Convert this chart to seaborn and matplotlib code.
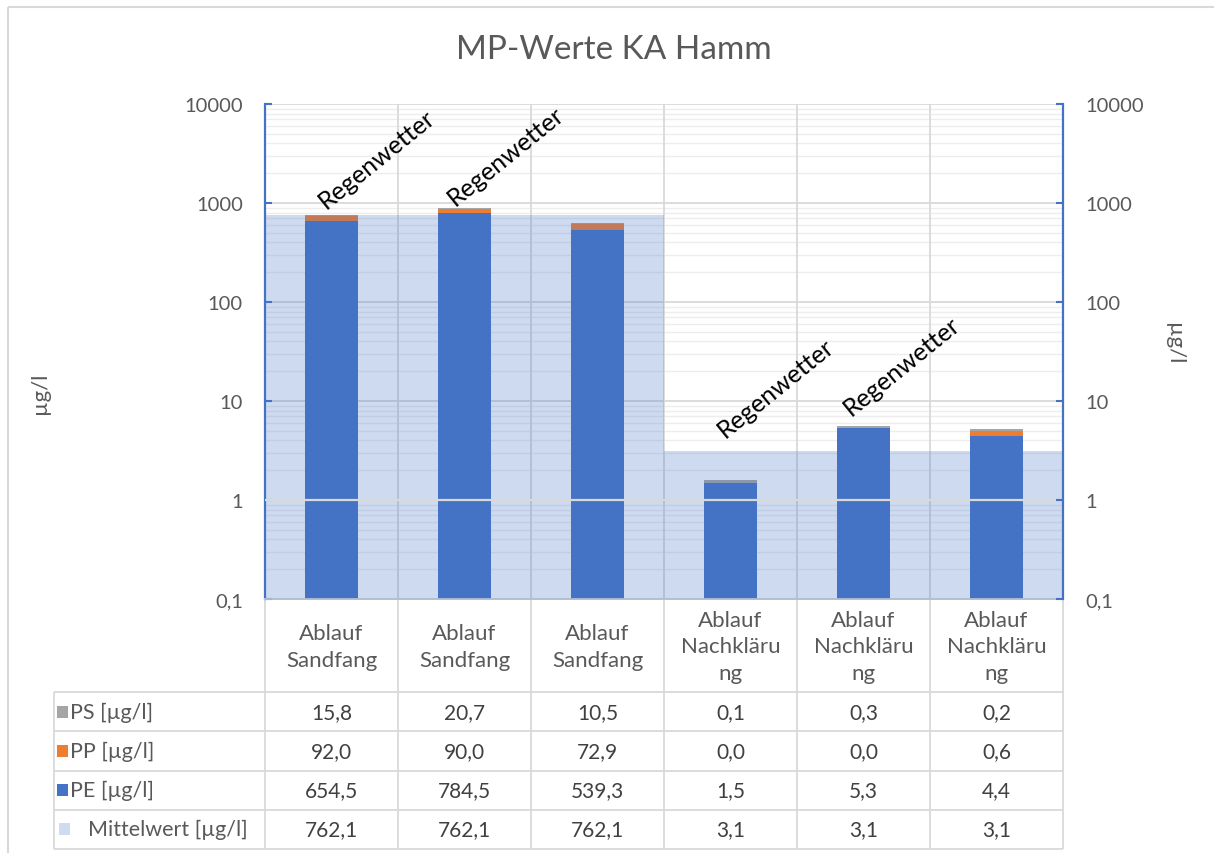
import warnings

import numpy as np
import pandas as pd
import matplotlib
matplotlib.use("Agg")
import matplotlib.pyplot as plt
from matplotlib.patches import Rectangle
from matplotlib.ticker import LogLocator, NullFormatter
import seaborn as sns

# ---- data -------------------------------------------------------------
categories = ["Ablauf\nSandfang", "Ablauf\nSandfang", "Ablauf\nSandfang",
              "Ablauf\nNachkläru\nng", "Ablauf\nNachkläru\nng", "Ablauf\nNachkläru\nng"]
ps_values = [15.8, 20.7, 10.5, 0.1, 0.3, 0.2]
pp_values = [92.0, 90.0, 72.9, 0.0, 0.0, 0.6]
pe_values = [654.5, 784.5, 539.3, 1.5, 5.3, 4.4]
mean_values = [762.1, 762.1, 762.1, 3.1, 3.1, 3.1]
rain_flags = [True, True, False, True, True, False]
rain_label = "Regenwetter"
series_labels = ["PS [µg/l]", "PP [µg/l]", "PE [µg/l]", "Mittelwert [µg/l]"]
y_ticks = [0.1, 1, 10, 100, 1000, 10000]
y_tick_labels = ["0,1", "1", "10", "100", "1000", "10000"]
title_text = "MP-Werte KA Hamm"
unit_text = "µg/l"

# ---- style ------------------------------------------------------------
PE_C, PP_C, PS_C = "#4472C4", "#ED7D31", "#A5A5A5"
MEAN_ALPHA = 0.26
MEAN_KEY = "#CFDBEE"
GRID_C, MINOR_C = "#D9D9D9", "#EDEDED"
TEXT_C = "#595959"
VALUE_C = "#404040"
FS = 14.5

sns.set_style("white")
plt.rcParams["font.family"] = ["Lato", "DejaVu Sans"]

W, H = 1214, 854
fig = plt.figure(figsize=(W / 100, H / 100), dpi=100)


def fx(x):
    return x / W


def fy(y):
    return 1 - y / H


PLOT_L, PLOT_R, PLOT_T, PLOT_B = 265, 1063, 105, 600
n = len(categories)

# overlay in pixel coordinates for the frame and the data table
tax = fig.add_axes([0, 0, 1, 1])
tax.set_xlim(0, W)
tax.set_ylim(H, 0)
tax.set_axis_off()
tax.add_patch(Rectangle((8, 8), W + 20, H + 20, fill=False, ec=GRID_C, lw=1.5))

# ---- main chart -------------------------------------------------------
ax = fig.add_axes([fx(PLOT_L), fy(PLOT_B), (PLOT_R - PLOT_L) / W, (PLOT_B - PLOT_T) / H])
ax.set_yscale("log")

df = pd.DataFrame({"pos": np.arange(n), "PE": pe_values, "PP": pp_values, "PS": ps_values})
df["PE_PP"] = df["PE"] + df["PP"]
df["total"] = df["PE_PP"] + df["PS"]

bar_kw = dict(width=0.405, saturation=1, errorbar=None, linewidth=0, zorder=2, ax=ax)
with warnings.catch_warnings():
    warnings.simplefilter("ignore")
    sns.barplot(data=df, x="pos", y="PE", color=PE_C, **bar_kw)
    sns.barplot(data=df, x="pos", y="PP", color=PP_C, bottom=df["PE"].to_numpy(), **bar_kw)
    sns.barplot(data=df, x="pos", y="PS", color=PS_C, bottom=df["PE_PP"].to_numpy(), **bar_kw)

# mean level as a translucent stepped area
x_edges = np.arange(n + 1) - 0.5
y_steps = list(mean_values) + [mean_values[-1]]
ax.fill_between(x_edges, y_steps, 0.01, step="post", color=PE_C, alpha=MEAN_ALPHA,
                linewidth=0, zorder=3)

# category axis crossing at 1
ax.axhline(1, color=GRID_C, lw=1.6, zorder=4)

for b in np.arange(n - 1) + 0.5:
    ax.axvline(b, color=GRID_C, lw=1.3, zorder=0.8)

ax.set_xlim(-0.5, n - 0.5)
ax.set_ylim(y_ticks[0], y_ticks[-1])
ax.set_xticks([])
ax.set_xlabel("")
ax.set_ylabel("")
ax.set_yticks(y_ticks, y_tick_labels)
ax.yaxis.set_minor_locator(LogLocator(base=10, subs=np.arange(2, 10)))
ax.yaxis.set_minor_formatter(NullFormatter())
ax.set_axisbelow(True)
ax.grid(True, which="major", axis="y", color=GRID_C, lw=1.3)
ax.grid(True, which="minor", axis="y", color=MINOR_C, lw=1.0)
ax.tick_params(axis="y", which="major", direction="in", length=5, width=1.5,
               color=PE_C, labelcolor=TEXT_C, labelsize=FS, pad=16)
ax.tick_params(axis="y", which="minor", length=0)
ax.spines["top"].set_visible(False)
ax.spines["right"].set_visible(False)
ax.spines["left"].set_color(PE_C)
ax.spines["left"].set_linewidth(1.6)
ax.spines["bottom"].set_color(GRID_C)
ax.spines["bottom"].set_linewidth(1.3)

ax2 = ax.twinx()
ax2.set_yscale("log")
ax2.set_ylim(y_ticks[0], y_ticks[-1])
ax2.set_yticks(y_ticks, y_tick_labels)
ax2.yaxis.set_minor_locator(LogLocator(base=10, subs=np.arange(2, 10)))
ax2.yaxis.set_minor_formatter(NullFormatter())
ax2.tick_params(axis="y", which="major", direction="in", length=5, width=1.5,
                color=PE_C, labelcolor=TEXT_C, labelsize=FS, pad=16)
ax2.tick_params(axis="y", which="minor", length=0)
for side in ("top", "left", "bottom"):
    ax2.spines[side].set_visible(False)
ax2.spines["right"].set_color(PE_C)
ax2.spines["right"].set_linewidth(1.6)

# rain-weather annotations above the bars
rain_offsets = [(-4, 4), (-7, 1), (0, 0), (-4, 30), (-9, 7), (0, 0)]
for i, flag in enumerate(rain_flags):
    if flag:
        ax.annotate(rain_label, xy=(i, df["total"][i]), xytext=rain_offsets[i],
                    textcoords="offset points", rotation=39, rotation_mode="anchor",
                    ha="left", va="baseline", fontsize=18, color="black",
                    annotation_clip=False, zorder=6)

# titles and axis labels
fig.text(fx(614), fy(50), title_text, ha="center", va="center", fontsize=24, color=TEXT_C)
fig.text(fx(40), fy(393), unit_text, rotation=90, ha="center", va="center",
         fontsize=16, color=TEXT_C)
fig.text(fx(1174), fy(344), unit_text, rotation=270, ha="center", va="center",
         fontsize=16, color=TEXT_C)

# ---- data table -------------------------------------------------------
TABLE_L = 54
col_edges = [PLOT_L + i * (PLOT_R - PLOT_L) / n for i in range(n + 1)]
col_centers = [(col_edges[i] + col_edges[i + 1]) / 2 for i in range(n)]
header_bottom, table_bottom = 693, 850
row_h = (table_bottom - header_bottom) / 4
row_edges = [header_bottom + k * row_h for k in range(5)]

line_kw = dict(color=GRID_C, lw=1.3, solid_capstyle="butt")
for e in col_edges:
    tax.plot([e, e], [PLOT_B, table_bottom], **line_kw)
tax.plot([TABLE_L, TABLE_L], [header_bottom, table_bottom], **line_kw)
for r in row_edges:
    tax.plot([TABLE_L, PLOT_R], [r, r], **line_kw)

for c, lab in zip(col_centers, categories):
    tax.text(c, (PLOT_B + header_bottom) / 2 + 1, lab, ha="center", va="center",
             multialignment="center", fontsize=16, color=TEXT_C, linespacing=1.4)

rows = [ps_values, pp_values, pe_values, mean_values]
keys = [PS_C, PP_C, PE_C, MEAN_KEY]
label_x = [70, 70, 70, 88]
key_x = [57, 57, 57, 59]
for k, (label, vals, key) in enumerate(zip(series_labels, rows, keys)):
    yc = (row_edges[k] + row_edges[k + 1]) / 2
    tax.add_patch(Rectangle((key_x[k], yc - 6), 11, 12, color=key, lw=0))
    tax.text(label_x[k], yc, label, ha="left", va="center", fontsize=15.5, color=TEXT_C)
    for c, v in zip(col_centers, vals):
        tax.text(c, yc, f"{v:.1f}".replace(".", ","), ha="center", va="center",
                 fontsize=15, color=VALUE_C)

fig.savefig("out.png", dpi=100)
